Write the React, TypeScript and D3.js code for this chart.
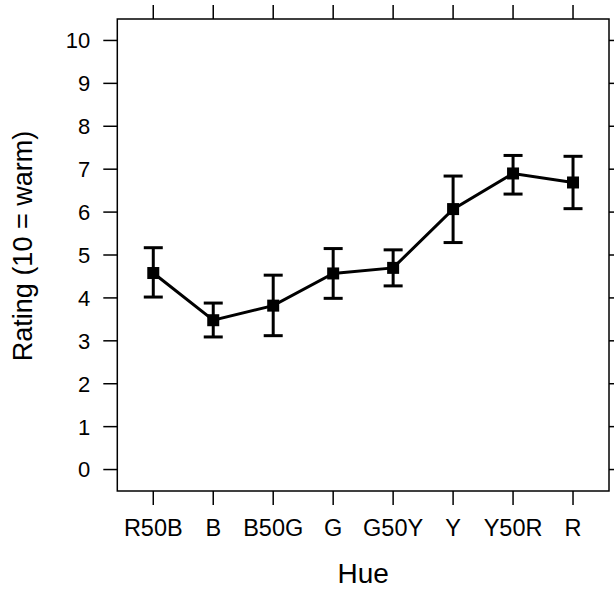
import React from "react";
import * as d3 from "d3";

const categories = ["R50B", "B", "B50G", "G", "G50Y", "Y", "Y50R", "R"];
const means = [4.58, 3.48, 3.82, 4.57, 4.7, 6.07, 6.9, 6.69];
const lowers = [4.02, 3.09, 3.12, 3.99, 4.28, 5.29, 6.42, 6.08];
const uppers = [5.17, 3.88, 4.53, 5.15, 5.12, 6.84, 7.32, 7.3];
const yTicks = [0, 1, 2, 3, 4, 5, 6, 7, 8, 9, 10];

const W = 614, H = 592;
const L = 117.3, R = 609, T = 19, B = 491;
const FONT = "'Liberation Sans', Arial, sans-serif";

export default function App() {
  const x = d3.scaleLinear().domain([0.4, 8.6]).range([L, R]);
  const y = d3.scaleLinear().domain([-0.5, 10.5]).range([B, T]);
  const line = d3.line<number>().x((_, i) => x(i + 1)).y((d) => y(d));
  const tick = 14;
  return (
    <svg width={W} height={H} style={{ position: "absolute", left: 0, top: 0, background: "#fff" }}>
      <rect x={L} y={T} width={R - L} height={B - T} fill="none" stroke="#000" strokeWidth={1.5} />
      {yTicks.map((t) => (
        <g key={t}>
          <line x1={L - tick} x2={L} y1={y(t)} y2={y(t)} stroke="#000" strokeWidth={1.5} />
          <line x1={R} x2={R + tick} y1={y(t)} y2={y(t)} stroke="#000" strokeWidth={1.5} />
          <text x={L - 27} y={y(t)} dy="0.36em" textAnchor="end" fontSize={22} fontFamily={FONT}>{t}</text>
        </g>
      ))}
      {categories.map((c, i) => (
        <g key={c}>
          <line x1={x(i + 1)} x2={x(i + 1)} y1={B} y2={B + tick} stroke="#000" strokeWidth={1.5} />
          <line x1={x(i + 1)} x2={x(i + 1)} y1={T - tick} y2={T} stroke="#000" strokeWidth={1.5} />
          <text x={x(i + 1)} y={536} textAnchor="middle" fontSize={23.5} fontFamily={FONT}>{c}</text>
        </g>
      ))}
      <path d={line(means) || ""} fill="none" stroke="#000" strokeWidth={3} />
      {means.map((m, i) => (
        <g key={i}>
          <line x1={x(i + 1)} x2={x(i + 1)} y1={y(lowers[i])} y2={y(uppers[i])} stroke="#000" strokeWidth={3} />
          <line x1={x(i + 1) - 9.5} x2={x(i + 1) + 9.5} y1={y(lowers[i])} y2={y(lowers[i])} stroke="#000" strokeWidth={3} />
          <line x1={x(i + 1) - 9.5} x2={x(i + 1) + 9.5} y1={y(uppers[i])} y2={y(uppers[i])} stroke="#000" strokeWidth={3} />
          <rect x={x(i + 1) - 6} y={y(m) - 6} width={12} height={12} fill="#000" />
        </g>
      ))}
      <text x={(L + R) / 2} y={583} textAnchor="middle" fontSize={28} fontFamily={FONT}>Hue</text>
      <text transform={`translate(32,246) rotate(-90)`} textAnchor="middle" fontSize={27} fontFamily={FONT}>Rating (10 = warm)</text>
    </svg>
  );
}
